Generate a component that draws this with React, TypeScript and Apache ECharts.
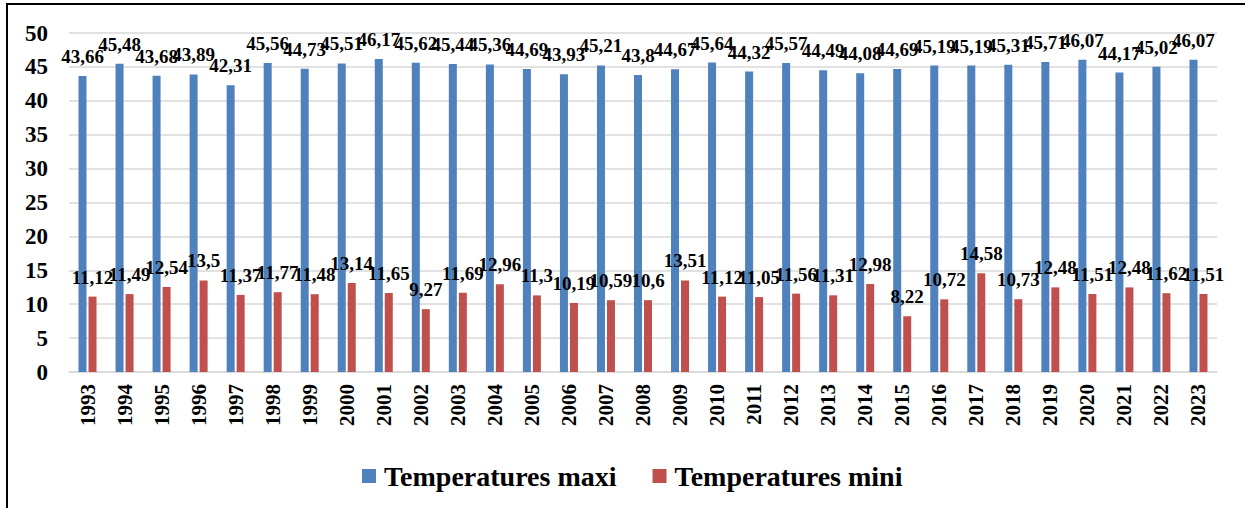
import React, { useEffect, useRef } from "react";
import * as echarts from "echarts";

const years = [
  "1993", "1994", "1995", "1996", "1997", "1998", "1999", "2000", "2001", "2002",
  "2003", "2004", "2005", "2006", "2007", "2008", "2009", "2010", "2011", "2012",
  "2013", "2014", "2015", "2016", "2017", "2018", "2019", "2020", "2021", "2022", "2023",
];

const tempMax = [
  43.66, 45.48, 43.68, 43.89, 42.31, 45.56, 44.73, 45.51, 46.17, 45.62,
  45.44, 45.36, 44.69, 43.93, 45.21, 43.8, 44.67, 45.64, 44.32, 45.57,
  44.49, 44.08, 44.69, 45.19, 45.19, 45.31, 45.71, 46.07, 44.17, 45.02, 46.07,
];

const tempMin = [
  11.12, 11.49, 12.54, 13.5, 11.37, 11.77, 11.48, 13.14, 11.65, 9.27,
  11.69, 12.96, 11.3, 10.19, 10.59, 10.6, 13.51, 11.12, 11.05, 11.56,
  11.31, 12.98, 8.22, 10.72, 14.58, 10.73, 12.48, 11.51, 12.48, 11.62, 11.51,
];

const seriesNames = ["Temperatures maxi", "Temperatures mini"];

const FONT = "'Liberation Serif', 'Times New Roman', serif";

// Decimal comma, trailing zeros dropped (e.g. 43,8 / 13,5)
const fmt = (v: number) => String(v).replace(".", ",");

export default function App() {
  const ref = useRef<HTMLDivElement>(null);

  useEffect(() => {
    document.body.style.margin = "0";
    document.body.style.overflow = "hidden";
    const chart = echarts.init(ref.current!, null, { renderer: "svg" });

    const labelStyle = {
      show: true,
      position: "top" as const,
      distance: 10,
      fontFamily: FONT,
      fontWeight: "bold" as const,
      fontSize: 19,
      color: "#000",
      formatter: (p: any) => fmt(p.value),
    };

    chart.setOption({
      animation: false,
      backgroundColor: "transparent",
      grid: { left: 69, right: 28, top: 33, bottom: 136, containLabel: false },
      legend: {
        left: 357,
        top: 457,
        itemWidth: 14,
        itemHeight: 14,
        itemGap: 36,
        icon: "rect",
        textStyle: {
          fontFamily: FONT,
          fontWeight: "bold",
          fontSize: 28,
          color: "#000",
          padding: [0, 0, 0, 3],
        },
        data: seriesNames,
      },
      xAxis: {
        type: "category",
        data: years,
        axisTick: { show: false },
        axisLine: { lineStyle: { color: "#D9D9D9", width: 1.5 } },
        axisLabel: {
          rotate: 90,
          margin: 12,
          interval: 0,
          fontFamily: FONT,
          fontWeight: "bold",
          fontSize: 21,
          color: "#000",
        },
      },
      yAxis: {
        type: "value",
        min: 0,
        max: 50,
        interval: 5,
        axisLine: { show: false },
        axisTick: { show: false },
        splitLine: { lineStyle: { color: "#D9D9D9", width: 1.5 } },
        axisLabel: {
          margin: 21,
          fontFamily: FONT,
          fontWeight: "bold",
          fontSize: 23,
          color: "#000",
        },
      },
      series: [
        {
          name: seriesNames[0],
          type: "bar",
          data: tempMax,
          barWidth: 8,
          barGap: "25%",
          itemStyle: { color: "#4F81BD" },
          label: labelStyle,
        },
        {
          name: seriesNames[1],
          type: "bar",
          data: tempMin,
          barWidth: 8,
          itemStyle: { color: "#C0504D" },
          label: labelStyle,
        },
      ],
    });

    return () => chart.dispose();
  }, []);

  return (
    <>
      <div
        style={{
          position: "fixed",
          left: 6,
          top: 3,
          width: 1300,
          height: 600,
          border: "2px solid #000",
          boxSizing: "border-box",
          background: "#fff",
        }}
      />
      <div
        ref={ref}
        style={{ position: "fixed", left: 0, top: 0, width: 1245, height: 508 }}
      />
    </>
  );
}
